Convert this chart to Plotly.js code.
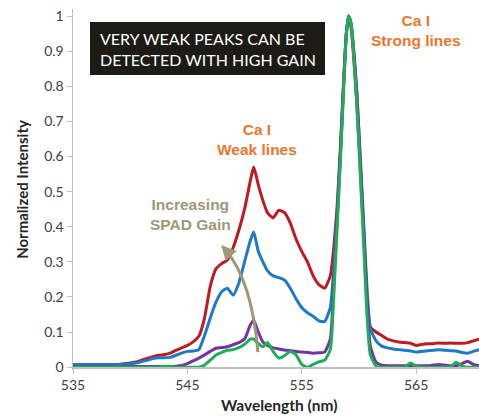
<!DOCTYPE html>
<html>
<head>
<meta charset="utf-8">
<script src="https://cdn.plot.ly/plotly-3.0.1.min.js"></script>
<style>
  html, body { margin: 0; padding: 0; background: #ffffff; }
  #chart { width: 479px; height: 419px; }
</style>
</head>
<body>
<div id="chart"></div>
<script>
// Wavelength grid (nm)
const wavelength = [
  535, 536, 537, 538, 539,
  540, 540.5, 541, 541.5, 542, 542.5, 543, 543.5, 544, 544.5,
  545, 545.5, 546, 546.5, 547, 547.5, 548, 548.5, 549, 549.5,
  550, 550.5,
  550.8, 551.2, 551.6,
  552, 552.5, 553, 553.5, 554, 554.5, 555, 555.5, 556, 556.5, 557, 557.5,
  557.8, 558.1, 558.4, 558.7, 558.9, 559.1, 559.3, 559.5, 559.8, 560.1, 560.4, 560.7,
  561, 561.5, 562, 562.5, 563, 563.5, 564, 564.5, 565, 565.5, 566, 566.5, 567, 567.5,
  568, 568.5, 569, 569.5, 570, 570.5, 571
];

// Highest gain (red)
const redIntensity = [
  0.007, 0.007, 0.007, 0.007, 0.008,
  0.012, 0.015, 0.02, 0.025, 0.03, 0.034, 0.036, 0.04, 0.048, 0.055,
  0.062, 0.072, 0.088, 0.14, 0.23, 0.28, 0.295, 0.305, 0.34, 0.39,
  0.45, 0.53,
  0.57, 0.52, 0.475,
  0.44, 0.425, 0.447, 0.44, 0.41, 0.365, 0.33, 0.30, 0.26, 0.235, 0.225, 0.26,
  0.34, 0.46, 0.64, 0.84, 0.95, 1.0, 0.97, 0.90, 0.76, 0.58, 0.39, 0.20,
  0.115, 0.10, 0.09, 0.08, 0.075, 0.072, 0.07, 0.068, 0.062, 0.065, 0.067, 0.067, 0.069, 0.068,
  0.069, 0.068, 0.068, 0.07, 0.075, 0.08, 0.083
];

// High gain (blue)
const blueIntensity = [
  0.008, 0.008, 0.008, 0.008, 0.008,
  0.01, 0.012, 0.016, 0.02, 0.025, 0.027, 0.027, 0.028, 0.034, 0.04,
  0.045, 0.046, 0.05, 0.09, 0.14, 0.185, 0.215, 0.225, 0.205, 0.24,
  0.30, 0.36,
  0.385, 0.33, 0.30,
  0.275, 0.26, 0.255, 0.248, 0.225, 0.195, 0.17, 0.155, 0.145, 0.132, 0.13, 0.17,
  0.28, 0.44, 0.62, 0.83, 0.95, 1.0, 0.98, 0.92, 0.79, 0.61, 0.42, 0.23,
  0.11, 0.075, 0.06, 0.055, 0.052, 0.05, 0.048, 0.046, 0.043, 0.045, 0.047, 0.048, 0.05, 0.048,
  0.047, 0.046, 0.042, 0.04, 0.045, 0.05, 0.054
];

// Medium gain (purple)
const purpleIntensity = [
  0.002, 0.002, 0.002, 0.002, 0.002,
  0.002, 0.002, 0.002, 0.002, 0.002, 0.002, 0.002, 0.002, 0.003, 0.005,
  0.01, 0.018, 0.026, 0.035, 0.045, 0.054, 0.056, 0.058, 0.064, 0.07,
  0.08, 0.12,
  0.134, 0.10, 0.072,
  0.062, 0.055, 0.052, 0.049, 0.047, 0.045, 0.043, 0.042, 0.04, 0.041, 0.043, 0.08,
  0.24, 0.42, 0.62, 0.83, 0.95, 1.0, 0.98, 0.92, 0.79, 0.60, 0.40, 0.20,
  0.06, 0.014, 0.006, 0.004, 0.004, 0.004, 0.004, 0.004, 0.004, 0.004, 0.004, 0.006, 0.008, 0.006,
  0.004, 0.004, 0.01, 0.017, 0.008, 0.004, 0.004
];

// Low gain (green)
const greenIntensity = [
  0, 0, 0, 0, 0,
  0, 0, 0, 0, 0, 0, 0.003, 0.002, 0, 0,
  0, 0, 0, 0.006, 0.02, 0.035, 0.042, 0.048, 0.05, 0.056,
  0.065, 0.08,
  0.08, 0.068, 0.058,
  0.07, 0.045, 0.026, 0.033, 0.045, 0.035, 0.008, 0.0, 0.008, 0.015, 0.02, 0.05,
  0.2, 0.40, 0.60, 0.82, 0.95, 1.0, 0.98, 0.91, 0.76, 0.56, 0.36, 0.15,
  0.035, 0.003, 0, 0, 0, 0, 0, 0.012, 0.003, 0, 0, 0, 0, 0,
  0, 0.014, 0.003, 0, 0, 0, 0
];

const xTickVals = [535, 545, 555, 565];
const xTickText = ['535', '545', '555', '565'];
const yTickVals = [0, 0.1, 0.2, 0.3, 0.4, 0.5, 0.6, 0.7, 0.8, 0.9, 1];
const yTickText = ['0', '0.1', '0.2', '0.3', '0.4', '0.5', '0.6', '0.7', '0.8', '0.9', '1'];

const seriesList = [
  { y: redIntensity, color: '#BE1A22' },
  { y: blueIntensity, color: '#1E7AC6' },
  { y: purpleIntensity, color: '#7432A6' },
  { y: greenIntensity, color: '#1FAE57' }
];

const traces = seriesList.map(s => ({
  x: wavelength,
  y: s.y,
  type: 'scatter',
  mode: 'lines',
  line: { color: s.color, width: 3, shape: 'spline', smoothing: 0.5 },
  hoverinfo: 'x+y',
  showlegend: false
}));

const yMin = -0.008, yMax = 1.02;
const orange = '#E9772A';
const khaki = '#9E9874';
const labelFont = 'Liberation Sans Narrow, Liberation Sans, Arial, sans-serif';
const bodyFont = 'Lato, Carlito, Calibri, sans-serif';

const layout = {
  width: 479,
  height: 419,
  margin: { l: 73, r: 0, t: 9, b: 49, pad: 0 },
  paper_bgcolor: '#ffffff',
  plot_bgcolor: '#ffffff',
  font: { family: bodyFont, size: 14, color: '#404040' },
  xaxis: {
    range: [535, 570.5],
    tickvals: xTickVals,
    ticktext: xTickText,
    anchor: 'free',
    position: (0 - yMin) / (yMax - yMin),
    showline: true,
    linecolor: '#BFBFBF',
    linewidth: 1.5,
    ticks: 'outside',
    ticklen: 5,
    tickcolor: '#BFBFBF',
    showgrid: false,
    zeroline: false,
    tickfont: { size: 14, color: '#404040' }
  },
  yaxis: {
    range: [yMin, yMax],
    tickvals: yTickVals,
    ticktext: yTickText,
    showline: true,
    linecolor: '#BFBFBF',
    linewidth: 1.5,
    ticks: 'outside',
    ticklen: 5,
    tickcolor: '#BFBFBF',
    showgrid: false,
    zeroline: false,
    tickfont: { size: 14, color: '#404040' },
    title: { text: '<b>Normalized Intensity</b>', font: { size: 15, color: '#262626' }, standoff: 12 }
  },
  shapes: [
    {
      type: 'rect', xref: 'paper', yref: 'paper',
      x0: (90 - 73) / 406, x1: (325 - 73) / 406,
      y0: (370 - 75) / 361, y1: (370 - 22) / 361,
      fillcolor: '#1D1B15', line: { width: 0 }, layer: 'above'
    },
    {
      type: 'path', xref: 'x', yref: 'y',
      path: 'M 551.17,0.043 Q 550.65,0.248 548.25,0.338',
      line: { color: khaki, width: 3 }, layer: 'above'
    }
  ],
  annotations: [
    {
      xref: 'paper', yref: 'paper',
      x: (98 - 73) / 406, y: (370 - 49) / 361,
      xanchor: 'left', yanchor: 'middle', align: 'left',
      text: 'VERY WEAK PEAKS CAN BE<br>DETECTED WITH HIGH GAIN',
      showarrow: false,
      font: { family: bodyFont, size: 16, color: '#ffffff' }
    },
    {
      xref: 'paper', yref: 'paper',
      x: (416 - 73) / 406, y: (370 - 31) / 361,
      xanchor: 'center', yanchor: 'middle', align: 'center',
      text: '<b>Ca I<br>Strong lines</b>',
      showarrow: false,
      font: { family: labelFont, size: 15.5, color: orange }
    },
    {
      xref: 'paper', yref: 'paper',
      x: (257 - 73) / 406, y: (370 - 139) / 361,
      xanchor: 'center', yanchor: 'middle', align: 'center',
      text: '<b>Ca I<br>Weak lines</b>',
      showarrow: false,
      font: { family: labelFont, size: 15.5, color: orange }
    },
    {
      xref: 'paper', yref: 'paper',
      x: (190 - 73) / 406, y: (370 - 214) / 361,
      xanchor: 'center', yanchor: 'middle', align: 'center',
      text: '<b>Increasing<br>SPAD Gain</b>',
      showarrow: false,
      font: { family: labelFont, size: 15.5, color: khaki }
    },
    {
      xref: 'x', yref: 'y',
      x: 547.95, y: 0.348,
      ax: 11, ay: 12,
      axref: 'pixel', ayref: 'pixel',
      text: '',
      showarrow: true,
      arrowhead: 2, arrowsize: 1, arrowwidth: 3,
      arrowcolor: khaki
    },
    {
      xref: 'paper', yref: 'paper',
      x: (279 - 73) / 406, y: (370 - 405) / 361,
      xanchor: 'center', yanchor: 'middle',
      text: '<b>Wavelength (nm)</b>',
      showarrow: false,
      font: { family: bodyFont, size: 15.5, color: '#262626' }
    }
  ]
};

Plotly.newPlot('chart', traces, layout, { displayModeBar: false, staticPlot: true });
</script>
</body>
</html>
